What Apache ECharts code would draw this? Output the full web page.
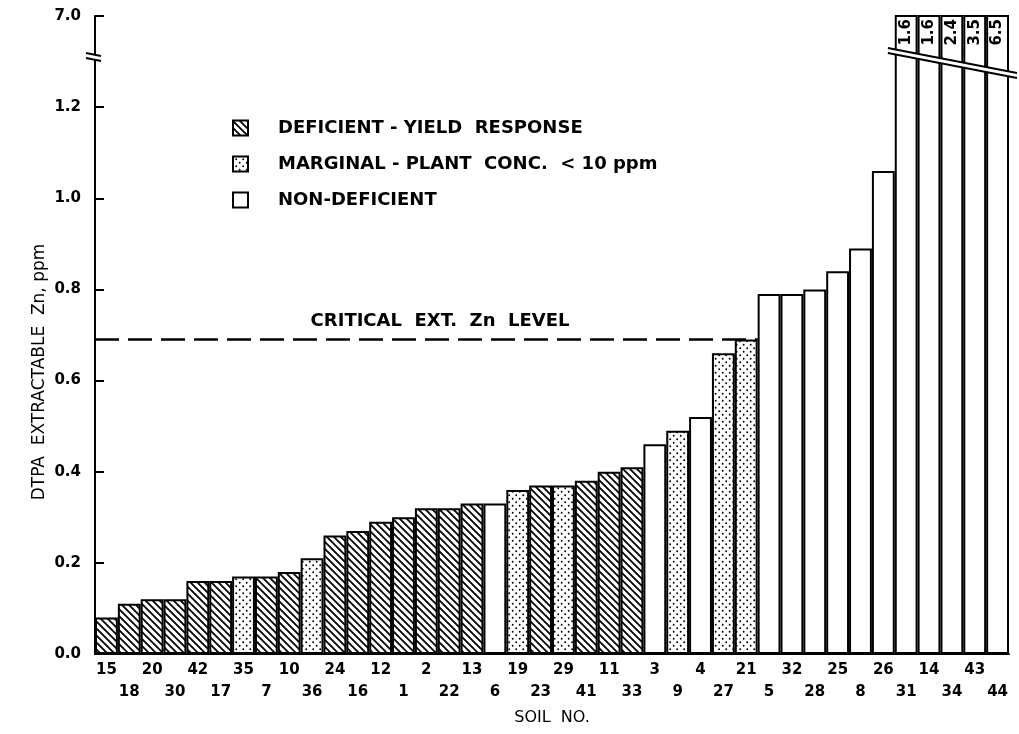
<!DOCTYPE html>
<html><head><meta charset="utf-8">
<script src="https://cdn.jsdelivr.net/npm/echarts@6/dist/echarts.min.js"></script>
<style>html,body{margin:0;padding:0;background:#fff}#c{width:1019px;height:734px}</style>
</head><body><div id="c"></div>
<script>
// ---- data ----
const soils = ['15','18','20','30','42','17','35','7','10','36','24','16','12','1','2','22','13','6','19','23','29','41','11','33','3','9','4','27','21','5','32','28','25','8','26','31','14','34','43','44'];
const zn = [0.08,0.11,0.12,0.12,0.16,0.16,0.17,0.17,0.18,0.21,0.26,0.27,0.29,0.30,0.32,0.32,0.33,0.33,0.36,0.37,0.37,0.38,0.40,0.41,0.46,0.49,0.52,0.66,0.69,0.79,0.79,0.80,0.84,0.89,1.06,1.6,1.6,2.4,3.5,6.5];
const status = ['D','D','D','D','D','D','M','D','D','M','D','D','D','D','D','D','D','N','M','D','M','D','D','D','N','M','N','M','M','N','N','N','N','N','N','N','N','N','N','N'];
const yTickLabels = ['0.0','0.2','0.4','0.6','0.8','1.0','1.2','7.0'];
const criticalLevel = 0.69;
const criticalText = 'CRITICAL  EXT.  Zn  LEVEL';
const classes = [
  {key:'D', name:'DEFICIENT - YIELD  RESPONSE'},
  {key:'M', name:'MARGINAL - PLANT  CONC.  < 10 ppm'},
  {key:'N', name:'NON-DEFICIENT'}
];
const axisTop = 1.4;       // drawn top of the broken axis (labelled 7.0)

// ---- patterns ----
function makeHatch(){
  const s=7, c=document.createElement('canvas'); c.width=c.height=s;
  const g=c.getContext('2d'); g.fillStyle='#fff'; g.fillRect(0,0,s,s);
  g.strokeStyle='#000'; g.lineWidth=1.8;
  g.beginPath(); g.moveTo(-1,-1); g.lineTo(s+1,s+1); g.moveTo(-1,s-1); g.lineTo(1,s+1); g.moveTo(s-1,-1); g.lineTo(s+1,1); g.stroke();
  return c;
}
function makeDots(){
  const s=7, c=document.createElement('canvas'); c.width=c.height=s;
  const g=c.getContext('2d'); g.fillStyle='#fff'; g.fillRect(0,0,s,s); g.fillStyle='#000';
  g.beginPath(); g.arc(1.7,1.7,0.95,0,Math.PI*2); g.arc(5.2,5.2,0.95,0,Math.PI*2); g.fill();
  return c;
}
const fills = {
  D: {image: makeHatch(), repeat:'repeat'},
  M: {image: makeDots(), repeat:'repeat'},
  N: '#ffffff'
};
const FONT = 'DejaVu Sans';

const chart = echarts.init(document.getElementById('c'), null, {renderer:'canvas'});

const series = classes.map(cl => ({
  name: cl.name,
  type: 'bar',
  xAxisIndex: 0, yAxisIndex: 0,
  barGap: '-100%', barCategoryGap: '0%',
  clip: true,
  itemStyle: {color: fills[cl.key], borderColor:'#000', borderWidth: 2},
  emphasis: {disabled: true},
  data: zn.map((v,i) => {
    if (status[i] !== cl.key) return '-';
    const item = {value: v};
    if (v > axisTop) {
      item.label = {show: true, position: 'insideTop', distance: 4, rotate: 90,
        align: 'right', verticalAlign: 'middle', formatter: String(v.toFixed(1)),
        color:'#000', fontFamily: FONT, fontSize: 15, fontWeight: 'bold'};
    }
    return item;
  })
}));

const critIdx = soils.indexOf('21') + 1;
series.push({
  type: 'line', xAxisIndex: 1, yAxisIndex: 0,
  data: [[0, criticalLevel], [critIdx, criticalLevel]],
  symbol: 'none', silent: true,
  lineStyle: {color:'#000', width: 2.5, type: [24, 9]},
  markPoint: {
    symbol: 'rect', symbolSize: 0, silent: true,
    label: {show: true, formatter: criticalText, color:'#000', fontFamily: FONT, fontSize: 18, fontWeight: 'bold', offset:[0,-18]},
    data: [{coord: [15.1, criticalLevel]}]
  }
});

chart.setOption({
  animation: false,
  backgroundColor: '#fff',
  grid: {left: 95, right: 10, top: 16, bottom: 80},
  xAxis: [{
    type: 'category', data: soils,
    axisLine: {lineStyle: {color:'#000', width: 2}},
    axisTick: {show: false},
    axisLabel: {interval: 0, margin: 5, color:'#000', fontFamily: FONT, fontSize: 15, fontWeight: 'bold', lineHeight: 22,
      formatter: (v, i) => (i % 2 ? '\n' + v : v)},
    name: 'SOIL  NO.', nameLocation: 'middle', nameGap: 56,
    nameTextStyle: {color:'#000', fontFamily: FONT, fontSize: 16}
  }, {
    type: 'value', min: 0, max: soils.length, show: false
  }],
  yAxis: {
    type: 'value', min: 0, max: axisTop, interval: 0.2,
    axisLine: {show: true, lineStyle: {color:'#000', width: 2}},
    axisTick: {show: true, inside: true, length: 9, lineStyle: {color:'#000', width: 2}},
    splitLine: {show: false},
    axisLabel: {margin: 14, color:'#000', fontFamily: FONT, fontSize: 15, fontWeight: 'bold',
      formatter: v => yTickLabels[Math.round(v / 0.2)]}
  },
  series
});

// ---- decorations: axis break, legend, y title ----
function px(x, y){ return chart.convertToPixel({xAxisIndex: 1, yAxisIndex: 0}, [x, y]); }
const firstTall = zn.findIndex(v => v > axisTop);
const bl = px(firstTall - 0.3, 1.33), br = px(soils.length + 0.35, 1.275);
const gap = 5;
const yb = px(0, 1.31);
const graphics = [
  {type:'polygon', z: 100, shape:{points:[[bl[0],bl[1]],[br[0],br[1]],[br[0],br[1]+gap],[bl[0],bl[1]+gap]]}, style:{fill:'#fff', stroke:null}},
  {type:'line', z: 101, shape:{x1:bl[0],y1:bl[1],x2:br[0],y2:br[1]}, style:{stroke:'#000', lineWidth:2}},
  {type:'line', z: 101, shape:{x1:bl[0],y1:bl[1]+gap,x2:br[0],y2:br[1]+gap}, style:{stroke:'#000', lineWidth:2}},
  {type:'rect', z: 100, shape:{x:yb[0]-5, y:yb[1]-2, width:10, height:4}, style:{fill:'#fff'}},
  {type:'line', z: 101, shape:{x1:yb[0]-9,y1:yb[1]-4,x2:yb[0]+6,y2:yb[1]-1}, style:{stroke:'#000', lineWidth:2}},
  {type:'line', z: 101, shape:{x1:yb[0]-9,y1:yb[1]+1,x2:yb[0]+6,y2:yb[1]+4}, style:{stroke:'#000', lineWidth:2}},
  {type:'text', x: 40, y: 372, rotation: Math.PI/2, style:{text:'DTPA  EXTRACTABLE  Zn, ppm', fill:'#000', font:'17px "'+FONT+'"', align:'center', verticalAlign:'middle'}}
];
classes.forEach((cl, k) => {
  const cy = 128 + k * 36;
  graphics.push({type:'rect', shape:{x:233, y:cy-7.5, width:15, height:15}, style:{fill: fills[cl.key], stroke:'#000', lineWidth:2}});
  graphics.push({type:'text', x: 278, y: cy, style:{text: cl.name, fill:'#000', font:'bold 18px "'+FONT+'"', verticalAlign:'middle'}});
});
chart.setOption({graphic: graphics});
</script></body></html>
